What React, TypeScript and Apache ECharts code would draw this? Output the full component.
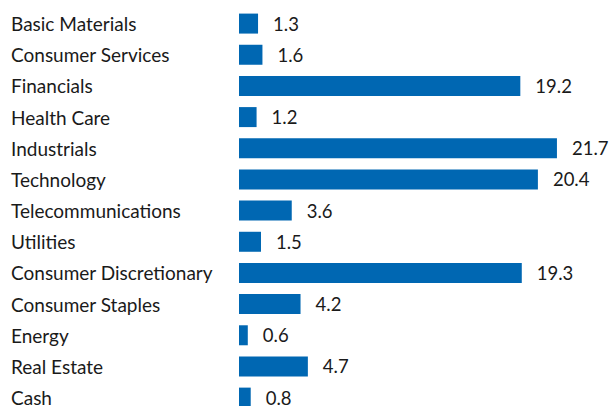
import React, { useEffect, useRef } from "react";
import * as echarts from "echarts";

const categories = [
  "Basic Materials",
  "Consumer Services",
  "Financials",
  "Health Care",
  "Industrials",
  "Technology",
  "Telecommunications",
  "Utilities",
  "Consumer Discretionary",
  "Consumer Staples",
  "Energy",
  "Real Estate",
  "Cash",
];
const values = [1.3, 1.6, 19.2, 1.2, 21.7, 20.4, 3.6, 1.5, 19.3, 4.2, 0.6, 4.7, 0.8];

const FONT = "Lato";

export default function App() {
  const ref = useRef<HTMLDivElement>(null);
  useEffect(() => {
    if (!ref.current) return;
    const chart = echarts.init(ref.current, null, { renderer: "svg" });
    chart.setOption({
      animation: false,
      grid: { left: 239, top: 8, width: 366.3, height: 405.2, containLabel: false },
      xAxis: {
        type: "value",
        min: 0,
        max: 25,
        show: false,
      },
      yAxis: {
        type: "category",
        data: categories,
        inverse: true,
        axisLine: { show: false },
        axisTick: { show: false },
        splitLine: { show: false },
        axisLabel: {
          align: "left",
          margin: 228,
          color: "#1a1a1a",
          fontFamily: FONT,
          fontSize: 19,
        },
      },
      series: [
        {
          type: "bar",
          data: values,
          barWidth: 20,
          itemStyle: { color: "#0067B2" },
          label: {
            show: true,
            position: "right",
            distance: 15,
            color: "#1a1a1a",
            fontFamily: FONT,
            fontSize: 18.5,
            formatter: (p: any) => p.value.toFixed(1),
          },
        },
      ],
    });
    return () => chart.dispose();
  }, []);
  return (
    <div style={{ position: "absolute", left: 0, top: 0, width: 613, height: 406, overflow: "hidden" }}>
      <div ref={ref} style={{ width: 613, height: 425 }} />
    </div>
  );
}
